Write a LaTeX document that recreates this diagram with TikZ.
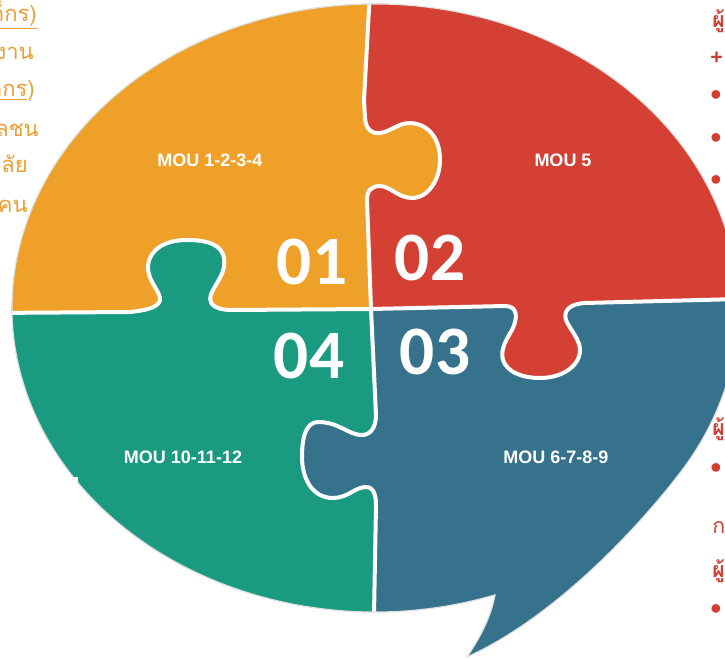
\documentclass[tikz,border=0pt]{standalone}
\usepackage{fontspec}
\setmainfont{Liberation Sans}
\newfontfamily\thaifont[Script=Thai]{Loma}
\newfontfamily\numfont{Carlito}
\definecolor{porange}{RGB}{239,160,41}
\definecolor{pred}{RGB}{212,65,52}
\definecolor{pblue}{RGB}{54,114,140}
\definecolor{pgreen}{RGB}{26,154,128}
\definecolor{torange}{RGB}{236,158,52}
\definecolor{tred}{RGB}{210,62,50}
\tikzset{
  x=0.75pt, y=-0.75pt,
  bubble/.style={insert path={(495.0,594.9) arc[start angle=70.7, end angle=392.2, x radius=363, y radius=304]
     .. controls (646,518) and (560,615) .. (467,657)
     .. controls (484,632) and (492,612) .. (495.0,594.9) -- cycle}},
  Vone/.style={insert path={-- (370,-10) -- (364,100) -- (365,118)
     .. controls (366,130) and (372,134) .. (380,133)
     .. controls (390,132) and (398,123) .. (410,123)
     .. controls (430,124) and (440,140) .. (440,160)
     .. controls (440,180) and (428,198) .. (412,198)
     .. controls (398,198) and (390,186) .. (380,186)
     .. controls (372,186) and (367,190) .. (367,200) -- (371,309)}},
  Hone/.style={insert path={-- (232,310)
     .. controls (212,310) and (207,302) .. (212,292)
     .. controls (218,280) and (226,272) .. (224,258)
     .. controls (222,246) and (210,240) .. (187,240)
     .. controls (164,240) and (150,250) .. (148,265)
     .. controls (147,280) and (158,288) .. (160,298)
     .. controls (161,306) and (150,310) .. (130,312) -- (-10,313)}},
  Htwo/.style={insert path={-- (505,306)
     .. controls (518,306) and (518,318) .. (512,330)
     .. controls (506,340) and (500,350) .. (503,360)
     .. controls (507,372) and (522,378) .. (540,378)
     .. controls (560,378) and (578,368) .. (580,352)
     .. controls (581,340) and (570,330) .. (566,320)
     .. controls (563,310) and (570,304) .. (585,303) -- (740,299)}},
  Vtwo/.style={insert path={-- (376,415)
     .. controls (376,428) and (370,436) .. (360,435)
     .. controls (348,434) and (338,422) .. (318,422)
     .. controls (305,422) and (302,440) .. (302,457)
     .. controls (302,478) and (312,498) .. (333,498)
     .. controls (348,498) and (355,487) .. (366,487)
     .. controls (374,487) and (376,496) .. (376,505) -- (373,670)}},
  divider/.style={draw=white, line width=3pt, line join=round},
  mou/.style={text=white, inner sep=0pt, font=\bfseries\fontsize{13.5}{16}\selectfont},
  num/.style={text=white, inner sep=0pt, font=\numfont\bfseries\fontsize{52}{60}\selectfont},
  lefttext/.style={text=torange, inner sep=0pt, anchor=base east, font=\thaifont\fontsize{16.5}{19}\selectfont},
  righttext/.style={text=tred, inner sep=0pt, anchor=base west, font=\thaifont\bfseries\fontsize{16}{19}\selectfont},
  rightplus/.style={text=tred, inner sep=0pt, anchor=base west, font=\bfseries\fontsize{16}{18}\selectfont},
  rightbullet/.style={text=tred, inner sep=0pt, anchor=base west, font=\fontsize{24}{26}\selectfont},
}
\begin{document}
\begin{tikzpicture}
\useasboundingbox (0,0) rectangle (725,659);
\begin{scope}
  \clip [bubble];
  \fill[pblue] (-20,-20) rectangle (760,680);
  \fill[pgreen] (-10,-10) [Vone] [Vtwo] -- (-10,670) -- cycle;
  \fill[porange] (-10,-10) [Vone] [Hone] -- cycle;
  \fill[pred] (740,-10) [Vone] [Htwo] -- cycle;
  \path[divider] (370,-10) [Vone];
  \path[divider] (371,309) [Hone];
  \path[divider] (371,309) [Htwo];
  \path[divider] (371,309) [Vtwo];
\end{scope}
\draw[black!12, line width=0.9pt] [bubble];
\fill[white] (68,477) rectangle (78,486);
% labels
\node[mou] (m1) at (210,160) {MOU 1-2-3-4};
\node[mou] (m5) at (563,160) {MOU 5};
\node[mou] (m10) at (183,457) {MOU 10-11-12};
\node[mou] (m6) at (556,457) {MOU 6-7-8-9};
\node[num] (n1) at (312,262) {01};
\node[num] (n2) at (430,258) {02};
\node[num] (n4) at (309,356) {04};
\node[num] (n3) at (435,352) {03};
% left cropped text
\node[lefttext] (l1) at (37,22) {\underline{ด็กร)}};
\node[lefttext] (l2) at (34,60) {งาน};
\node[lefttext] (l3) at (35,97) {\underline{ด็กร})};
\node[lefttext] (l4) at (39,137) {ลชน};
\node[lefttext] (l5) at (28,173) {าลัย};
\node[lefttext] (l6) at (28,213) {นคน};
% right cropped text
\node[righttext] (r1) at (712,28) {ผู้};
\node[rightplus] (r2) at (710,65) {+};
\node[rightbullet] (r3) at (710,106) {•};
\node[rightbullet] (r4) at (710,149) {•};
\node[rightbullet] (r5) at (710,191) {•};
\node[righttext] (r6) at (712,435) {ผู้};
\node[rightbullet] (r7) at (710,478) {•};
\node[righttext, font=\thaifont\fontsize{16}{19}\selectfont] (r8) at (712,533) {กา};
\node[righttext] (r9) at (712,577) {ผู้};
\node[rightbullet] (r10) at (710,619) {•};
\end{tikzpicture}
\end{document}
